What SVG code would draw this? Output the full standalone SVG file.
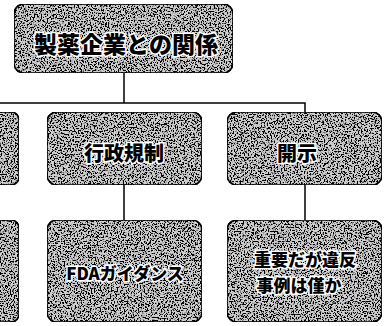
<svg xmlns="http://www.w3.org/2000/svg" width="388" height="326" viewBox="0 0 388 326">
<defs>
<filter id="grain" x="0" y="0" width="100%" height="100%">
<feTurbulence type="fractalNoise" baseFrequency="0.7" numOctaves="2" seed="3" result="n"/>
<feColorMatrix in="n" type="matrix" values="0 0 0 0 0  0 0 0 0 0  0 0 0 0 0  0 0 0 -9 4.7" result="dots"/>
<feComposite in="dots" in2="SourceGraphic" operator="in" result="d2"/>
<feMerge><feMergeNode in="SourceGraphic"/><feMergeNode in="d2"/></feMerge>
</filter>
<style>
.box{fill:#cfcfcf;stroke:#000;stroke-width:1.6;filter:url(#grain)}
.lbl{font-family:"Noto Sans CJK JP","Noto Sans CJK SC",sans-serif;font-weight:900;fill:#000;stroke:#fff;stroke-width:3;paint-order:stroke;text-anchor:middle;dominant-baseline:central}
.con{fill:none;stroke:#000;stroke-width:1.5}
</style>
</defs>
<rect width="388" height="326" fill="#fff"/>
<g id="connectors">
<path class="con" d="M124 73 V103 M0 103 H305 V112 M124 185 V220 M305 185 V220"/>
</g>
<g id="n-root">
<rect class="box" x="14" y="4" width="219" height="69" rx="10"/>
<text class="lbl" x="126" y="43" font-size="23">製薬企業との関係</text>
</g>
<g id="n-left1">
<rect class="box" x="-20" y="112" width="39" height="73" rx="8"/>
</g>
<g id="n-admin">
<rect class="box" x="47" y="112" width="155" height="73" rx="10"/>
<text class="lbl" x="124" y="152" font-size="20">行政規制</text>
</g>
<g id="n-disclose">
<rect class="box" x="227" y="112" width="155" height="73" rx="10"/>
<text class="lbl" x="297" y="152" font-size="20">開示</text>
</g>
<g id="n-left2">
<rect class="box" x="-20" y="220" width="39" height="102" rx="8"/>
</g>
<g id="n-fda">
<rect class="box" x="47" y="220" width="155" height="102" rx="10"/>
<text class="lbl" x="125" y="272" font-size="17">FDAガイダンス</text>
</g>
<g id="n-cases">
<rect class="box" x="227" y="220" width="155" height="102" rx="10"/>
<text class="lbl" x="305" y="258" font-size="17">重要だが違反</text>
<text class="lbl" x="299" y="284" font-size="17">事例は僅か</text>
</g>
</svg>
